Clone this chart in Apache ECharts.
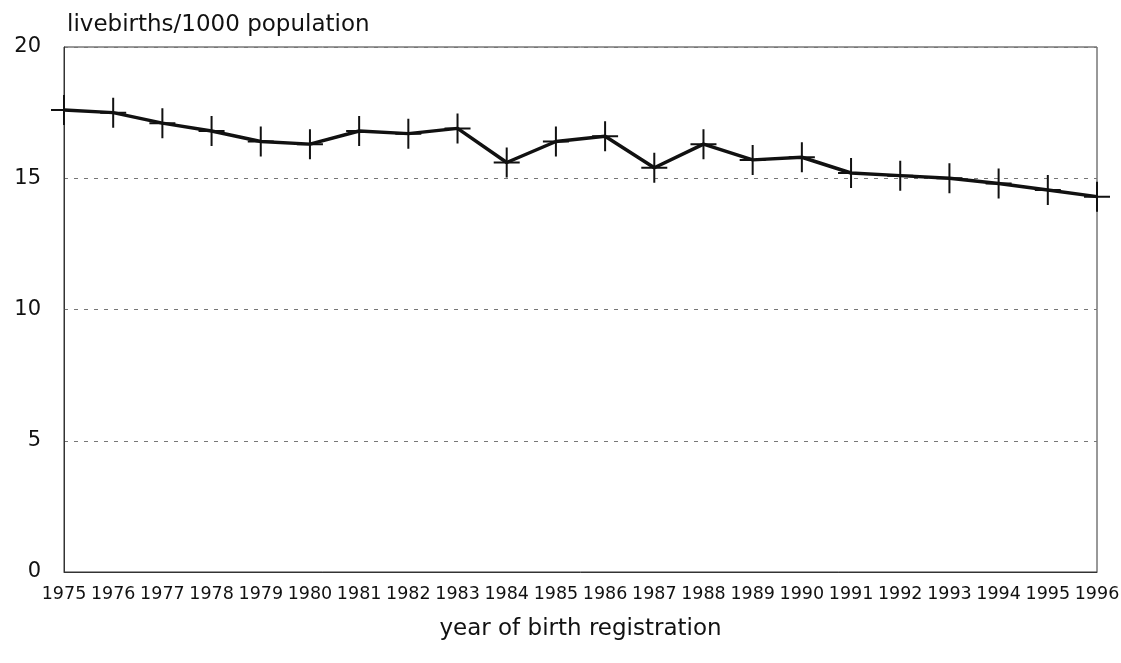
<!DOCTYPE html>
<html>
<head>
<meta charset="utf-8">
<script src="https://cdn.jsdelivr.net/npm/echarts@6/dist/echarts.min.js"></script>
<style>
  html, body { margin: 0; padding: 0; background: #fff; }
  #chart { width: 1121px; height: 663px; }
</style>
</head>
<body>
<div id="chart"></div>
<script>
const years = ['1975', '1976', '1977', '1978', '1979', '1980', '1981', '1982', '1983', '1984', '1985',
  '1986', '1987', '1988', '1989', '1990', '1991', '1992', '1993', '1994', '1995', '1996'];
const birthRate = [17.6, 17.5, 17.1, 16.8, 16.4, 16.3, 16.8, 16.7, 16.9, 15.6, 16.4,
  16.6, 15.4, 16.3, 15.7, 15.8, 15.2, 15.1, 15.0, 14.8, 14.55, 14.3];

// plus-shaped marker, like the ones in the original print
const plusSymbol = 'path://M12,0 L14,0 L14,14 L26,14 L26,16 L14,16 L14,30 L12,30 L12,16 L0,16 L0,14 L12,14 Z';

const chart = echarts.init(document.getElementById('chart'));
const font = '"DejaVu Sans", sans-serif';

chart.setOption({
  backgroundColor: '#fff',
  animation: false,
  grid: {
    left: 64,
    right: 24,
    top: 47,
    bottom: 91,
    outerBoundsMode: 'none',
    show: true,
    borderColor: '#333',
    borderWidth: 1
  },
  xAxis: {
    type: 'category',
    data: years,
    boundaryGap: false,
    name: 'year of birth registration',
    nameLocation: 'middle',
    nameGap: 46,
    nameTextStyle: { color: '#111', fontSize: 23, fontFamily: font },
    axisLine: { lineStyle: { color: '#333', width: 1 } },
    axisTick: { show: false },
    axisLabel: {
      color: '#111',
      fontSize: 17.5,
      fontFamily: font,
      margin: 13,
      interval: 0
    },
    splitLine: { show: false }
  },
  yAxis: {
    type: 'value',
    min: 0,
    max: 20,
    interval: 5,
    name: 'livebirths/1000 population',
    nameLocation: 'end',
    nameGap: 10,
    nameTextStyle: { color: '#111', fontSize: 23, fontFamily: font, align: 'left', padding: [0, 0, 0, 3] },
    axisLine: { show: true, lineStyle: { color: '#333', width: 1 } },
    axisTick: { show: false },
    axisLabel: { color: '#111', fontSize: 21, fontFamily: font, margin: 23 },
    splitLine: { lineStyle: { color: '#777', type: [4, 6], width: 1 } }
  },
  series: [{
    type: 'line',
    data: birthRate,
    clip: false,
    symbol: plusSymbol,
    symbolSize: [26, 30],
    showSymbol: true,
    itemStyle: { color: '#111' },
    lineStyle: { color: '#111', width: 3.5 }
  }]
});
</script>
</body>
</html>
